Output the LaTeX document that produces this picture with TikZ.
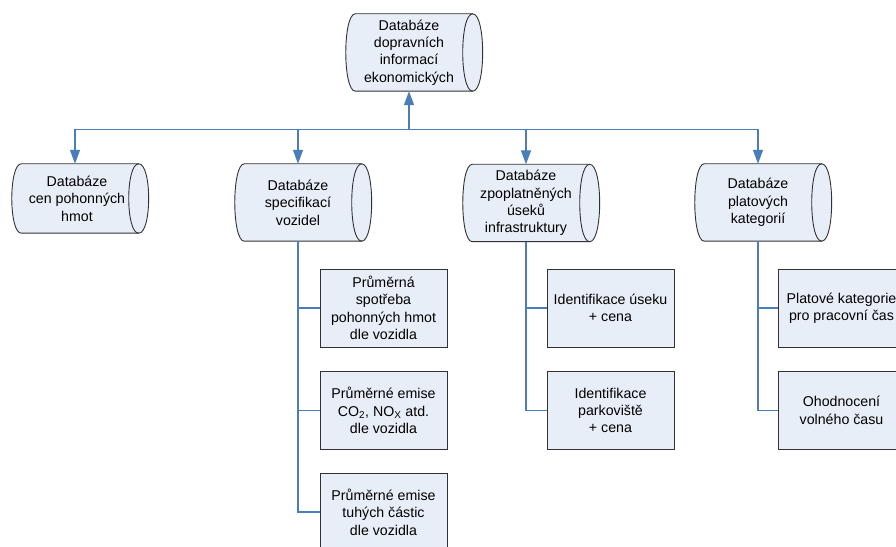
\documentclass[tikz,border=0pt]{standalone}
\usepackage{fontspec}
\setmainfont{Liberation Sans}
\usetikzlibrary{arrows.meta,calc}

\definecolor{linkblue}{RGB}{74,126,187}
\definecolor{boxfill}{RGB}{232,238,248}
\definecolor{boxline}{RGB}{50,50,50}

\tikzset{
  txt/.style={font=\fontsize{14.2bp}{17.4bp}\selectfont, align=center, inner sep=0pt},
  dbnode/.style={txt, minimum width=107bp, minimum height=#1, draw=none},
  dbnode/.default=77bp,
  infobox/.style={txt, draw=boxline, fill=boxfill, line width=0.9bp,
    minimum width=127bp, minimum height=78bp},
  dbline/.style={draw=boxline, fill=boxfill, line width=0.9bp},
  link/.style={draw=linkblue, line width=1.4bp},
  arr/.style={link, -{Triangle[length=14bp,width=10bp]}},
}

% horizontal cylinder drawn around a (borderless) node
\newcommand\dbshape[1]{%
  \path[dbline]
    (#1.north west) -- ($(#1.north east)+(10,0)$)
    .. controls ($(#1.north east)+(23.3,0)$) and ($(#1.south east)+(23.3,0)$) .. ($(#1.south east)+(10,0)$)
    -- (#1.south west)
    .. controls ($(#1.south west)+(-12.7,0)$) and ($(#1.north west)+(-12.7,0)$) .. (#1.north west) -- cycle;
  \draw[boxline, line width=0.9bp]
    ($(#1.north east)+(10,0)$)
    .. controls ($(#1.north east)+(-3.3,0)$) and ($(#1.south east)+(-3.3,0)$) .. ($(#1.south east)+(10,0)$);
}

\begin{document}
\begin{tikzpicture}[x=1bp,y=-1bp]
\useasboundingbox (0,0) rectangle (896,547);
\clip (0,0) rectangle (896,547);
\fill[white] (0,0) rectangle (896,547);

% database nodes
\node[dbnode] (top) at (409,52.5) {};
\node[dbnode=69bp] (db1) at (75,198.5) {};
\node[dbnode] (db2) at (298,202.5) {};
\node[dbnode] (db3) at (526,203) {};
\node[dbnode] (db4) at (758,202.5) {};
\dbshape{top}\dbshape{db1}\dbshape{db2}\dbshape{db3}\dbshape{db4}
\node[txt] (toptext) at (top) {Databáze\\dopravních\\informací\\ekonomických};
\node[txt] (db1text) at ([xshift=2bp]db1.center) {Databáze\\cen pohonných\\hmot};
\node[txt] (db2text) at (db2) {Databáze\\specifikací\\vozidel};
\node[txt] (db3text) at (db3) {Databáze\\zpoplatněných\\úseků\\infrastruktury};
\node[txt] (db4text) at (db4) {Databáze\\platových\\kategorií};

% detail boxes
\node[infobox] (b21) at (383.5,308) {Průměrná\\spotřeba\\pohonných hmot\\dle vozidla};
\node[infobox] (b22) at (383.5,410.5) {Průměrné emise\\CO\textsubscript{2}, NO\textsubscript{X} atd.\\dle vozidla};
\node[infobox] (b23) at (383.5,512) {Průměrné emise\\tuhých částic\\dle vozidla};
\node[infobox] (b31) at (610.5,308) {Identifikace úseku\\+ cena};
\node[infobox] (b32) at (610.5,410.5) {Identifikace\\parkoviště\\+ cena};
\node[infobox] (b41) at (841.5,308) {Platové kategorie\\pro pracovní čas};
\node[infobox] (b42) at (841.5,410.5) {Ohodnocení\\volného času};

% distribution bus
\coordinate (bus) at (409,129.5);
\draw[link] (db1.north |- bus) -- (db4.north |- bus);
\draw[arr] (bus) -- (top.south);
\foreach \d in {db1,db2,db3,db4}
  \draw[arr] (\d.north |- bus) -- (\d.north);

% branches to detail boxes
\draw[link] (db2.south) |- (b21.west);
\draw[link] (db2.south) |- (b22.west);
\draw[link] (db2.south) |- (b23.west);
\draw[link] (db3.south) |- (b31.west);
\draw[link] (db3.south) |- (b32.west);
\draw[link] (db4.south) |- (b41.west);
\draw[link] (db4.south) |- (b42.west);
\end{tikzpicture}
\end{document}
